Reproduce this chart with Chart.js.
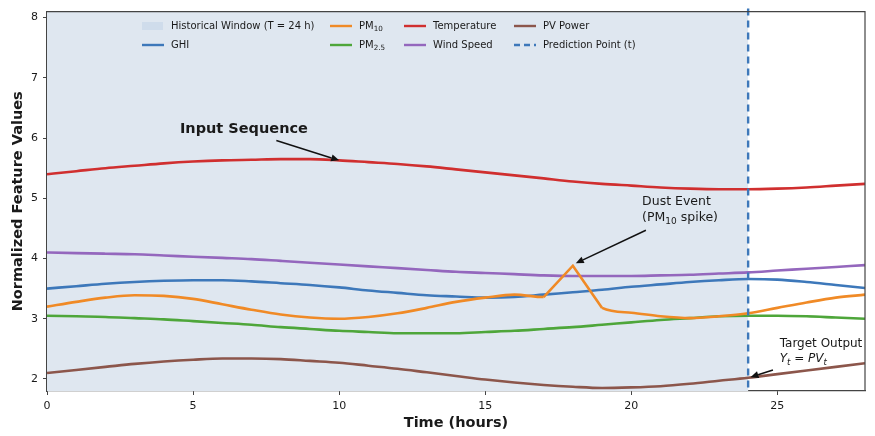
<!DOCTYPE html>
<html>
<head>
<meta charset="utf-8">
<script src="https://cdn.jsdelivr.net/npm/chart.js@4.4.1/dist/chart.umd.min.js"></script>
<style>
  html, body { margin: 0; padding: 0; background: #fff; }
</style>
</head>
<body>
<canvas id="chart" width="875" height="436"></canvas>
<script>
// Hours on the x axis
const hours = [0, 1, 2, 3, 4, 5, 6, 7, 8, 9, 10, 11, 12, 13, 14, 15, 16, 17, 18, 19, 20, 21, 22, 23, 24, 25, 26, 27, 28];

// Series values (normalized)
const ghi = [3.50, 3.54, 3.58, 3.61, 3.63, 3.64, 3.64, 3.62, 3.59, 3.56, 3.52, 3.47, 3.43, 3.39, 3.37, 3.35, 3.36, 3.40, 3.44, 3.48, 3.53, 3.57, 3.61, 3.64, 3.66, 3.65, 3.61, 3.56, 3.51];
const pm10 = [3.20, 3.28, 3.35, 3.39, 3.38, 3.33, 3.24, 3.15, 3.07, 3.02, 3.00, 3.03, 3.09, 3.18, 3.28, 3.35, 3.40, 3.36, 3.88, 3.18, 3.10, 3.04, 3.01, 3.04, 3.09, 3.18, 3.27, 3.35, 3.40];
const pm25 = [3.05, 3.04, 3.03, 3.01, 2.99, 2.96, 2.93, 2.90, 2.86, 2.83, 2.80, 2.78, 2.76, 2.76, 2.76, 2.78, 2.80, 2.83, 2.86, 2.90, 2.94, 2.98, 3.01, 3.04, 3.05, 3.05, 3.04, 3.02, 3.00];
const temperature = [5.40, 5.45, 5.50, 5.54, 5.58, 5.61, 5.63, 5.64, 5.65, 5.65, 5.63, 5.60, 5.57, 5.53, 5.48, 5.43, 5.38, 5.33, 5.28, 5.24, 5.21, 5.18, 5.16, 5.15, 5.15, 5.16, 5.18, 5.21, 5.24];
const windSpeed = [4.10, 4.09, 4.08, 4.07, 4.05, 4.03, 4.01, 3.99, 3.96, 3.93, 3.90, 3.87, 3.84, 3.81, 3.78, 3.76, 3.74, 3.72, 3.71, 3.71, 3.71, 3.72, 3.73, 3.75, 3.77, 3.80, 3.83, 3.86, 3.89];
const pvPower = [2.10, 2.15, 2.20, 2.25, 2.29, 2.32, 2.34, 2.34, 2.33, 2.30, 2.27, 2.22, 2.17, 2.11, 2.05, 1.99, 1.94, 1.90, 1.87, 1.85, 1.86, 1.88, 1.92, 1.97, 2.02, 2.08, 2.14, 2.20, 2.26];

// Axis ticks
const xTicks = [0, 5, 10, 15, 20, 25];
const yTicks = [2, 3, 4, 5, 6, 7, 8];

// Historical window and prediction point (hours)
const windowStart = 0;
const windowEnd = 24;
const predictionT = 24;

const colors = {
    ghi: '#3d78ba',
    pm10: '#f08a26',
    pm25: '#4ea63a',
    temperature: '#d02f2f',
    wind: '#9467bd',
    pv: '#8c564b',
    shade: '#dfe7f0',
    shadePatch: '#cfdceb',
    text: '#1a1a1a',
    spine: '#444'
};

const FONT = '"DejaVu Sans", "Liberation Sans", sans-serif';

// Legend entries (column by column, as matplotlib lays them out)
const legendItems = [
    { kind: 'patch', color: colors.shadePatch, parts: [{ t: 'Historical Window (T = 24 h)' }] },
    { kind: 'line', color: colors.ghi, parts: [{ t: 'GHI' }] },
    { kind: 'line', color: colors.pm10, parts: [{ t: 'PM' }, { t: '10', sub: true }] },
    { kind: 'line', color: colors.pm25, parts: [{ t: 'PM' }, { t: '2.5', sub: true }] },
    { kind: 'line', color: colors.temperature, parts: [{ t: 'Temperature' }] },
    { kind: 'line', color: colors.wind, parts: [{ t: 'Wind Speed' }] },
    { kind: 'line', color: colors.pv, parts: [{ t: 'PV Power' }] },
    { kind: 'dash', color: colors.ghi, parts: [{ t: 'Prediction Point (t)' }] }
];

// Text annotations with arrows, in data coordinates
const annotations = [
    { lines: [[{ t: 'Input Sequence' }]], size: 14.5, weight: 'bold', textAt: [4.55, 6.14], lineGap: 0,
      from: [7.85, 5.96], to: [10, 5.63] },
    { lines: [[{ t: 'Dust Event' }], [{ t: '(PM' }, { t: '10', sub: true }, { t: ' spike)' }]], size: 12.5, weight: '', textAt: [20.37, 4.94], lineGap: 0.265,
      from: [20.5, 4.47], to: [18.1, 3.92] },
    { lines: [[{ t: 'Target Output' }], [{ t: 'Y', it: true }, { t: 't', it: true, sub: true }, { t: ' = ' }, { t: 'PV', it: true }, { t: 't', it: true, sub: true }]], size: 12, weight: '', textAt: [25.08, 2.58], lineGap: 0.245,
      from: [24.85, 2.15], to: [24.08, 2.03] }
];

function xy(arr) {
    return hours.map(function(h, i) { return { x: h, y: arr[i] }; });
}

// Draw text with optional subscripts / italics
function drawParts(ctx, parts, x, y, size, weight) {
    let cx = x;
    parts.forEach(function(p) {
        const sz = p.sub ? size * 0.72 : size;
        ctx.font = (p.it ? 'italic ' : '') + (weight ? weight + ' ' : '') + sz + 'px ' + FONT;
        ctx.fillText(p.t, cx, p.sub ? y + size * 0.3 : y);
        cx += ctx.measureText(p.t).width;
    });
}

function drawArrow(ctx, x0, y0, x1, y1) {
    const ang = Math.atan2(y1 - y0, x1 - x0);
    const head = 8, half = 3.5;
    ctx.strokeStyle = '#111';
    ctx.fillStyle = '#111';
    ctx.lineWidth = 1.5;
    ctx.beginPath();
    ctx.moveTo(x0, y0);
    ctx.lineTo(x1 - head * Math.cos(ang), y1 - head * Math.sin(ang));
    ctx.stroke();
    ctx.beginPath();
    ctx.moveTo(x1, y1);
    ctx.lineTo(x1 - head * Math.cos(ang) + half * Math.sin(ang), y1 - head * Math.sin(ang) - half * Math.cos(ang));
    ctx.lineTo(x1 - head * Math.cos(ang) - half * Math.sin(ang), y1 - head * Math.sin(ang) + half * Math.cos(ang));
    ctx.closePath();
    ctx.fill();
}

// The PM10 spike is drawn with straight segments
const spikeIdx = pm10.indexOf(Math.max.apply(null, pm10));

const overlay = {
    id: 'overlay',
    beforeDatasetsDraw: function(chart) {
        const ctx = chart.ctx, a = chart.chartArea, x = chart.scales.x;
        const x0 = x.getPixelForValue(windowStart), x1 = x.getPixelForValue(windowEnd);
        ctx.save();
        ctx.fillStyle = colors.shade;
        ctx.fillRect(x0, a.top, x1 - x0, a.bottom - a.top);
        ctx.restore();
    },
    afterDatasetsDraw: function(chart) {
        const ctx = chart.ctx, a = chart.chartArea, x = chart.scales.x, y = chart.scales.y;
        ctx.save();

        // prediction point
        const px = x.getPixelForValue(predictionT);
        ctx.strokeStyle = colors.ghi;
        ctx.lineWidth = 2.4;
        ctx.setLineDash([7, 5]);
        ctx.beginPath();
        ctx.moveTo(px, a.top - 3);
        ctx.lineTo(px, a.bottom);
        ctx.stroke();
        ctx.setLineDash([]);

        // annotations
        ctx.textBaseline = 'middle';
        ctx.textAlign = 'left';
        annotations.forEach(function(an) {
            an.lines.forEach(function(line, i) {
                ctx.fillStyle = colors.text;
                drawParts(ctx, line, x.getPixelForValue(an.textAt[0]), y.getPixelForValue(an.textAt[1] - i * an.lineGap), an.size, an.weight);
            });
            drawArrow(ctx, x.getPixelForValue(an.from[0]), y.getPixelForValue(an.from[1]),
                x.getPixelForValue(an.to[0]), y.getPixelForValue(an.to[1]));
        });

        // legend
        const colX = [142, 330, 404, 514];
        const rowY = [26, 45];
        legendItems.forEach(function(item, i) {
            const cx = colX[Math.floor(i / 2)], cy = rowY[i % 2];
            if (item.kind === 'patch') {
                ctx.fillStyle = item.color;
                ctx.fillRect(cx, cy - 4, 21, 8);
            } else {
                ctx.strokeStyle = item.color;
                ctx.lineWidth = 2.4;
                ctx.setLineDash(item.kind === 'dash' ? [6, 4] : []);
                ctx.beginPath();
                ctx.moveTo(cx, cy);
                ctx.lineTo(cx + 22, cy);
                ctx.stroke();
                ctx.setLineDash([]);
            }
            ctx.fillStyle = colors.text;
            drawParts(ctx, item.parts, cx + 29, cy, 10, '');
        });
        ctx.restore();
    },
    afterDraw: function(chart) {
        const ctx = chart.ctx, a = chart.chartArea;
        ctx.save();
        // top and right spines
        ctx.strokeStyle = colors.spine;
        ctx.lineWidth = 1.2;
        ctx.beginPath();
        ctx.moveTo(a.left, a.top);
        ctx.lineTo(a.right, a.top);
        ctx.lineTo(a.right, a.bottom);
        ctx.stroke();

        // axis titles
        ctx.fillStyle = colors.text;
        ctx.font = 'bold 14.5px ' + FONT;
        ctx.textAlign = 'center';
        ctx.textBaseline = 'middle';
        ctx.fillText('Time (hours)', (a.left + a.right) / 2, 423);
        ctx.translate(18, (a.top + a.bottom) / 2);
        ctx.rotate(-Math.PI / 2);
        ctx.fillText('Normalized Feature Values', 0, 0);
        ctx.restore();
    }
};

function lineSet(label, arr, color, order) {
    return {
        label: label,
        data: xy(arr),
        borderColor: color,
        borderWidth: 2.6,
        pointRadius: 0,
        fill: false,
        cubicInterpolationMode: 'monotone',
        order: order
    };
}

const pm10Set = lineSet('PM10', pm10, colors.pm10, 0);
pm10Set.segment = {
    borderColor: function(c) {
        return (c.p0DataIndex >= spikeIdx - 1 && c.p0DataIndex < spikeIdx + 1) ? 'rgba(0,0,0,0)' : colors.pm10;
    }
};

const spikeSet = {
    label: 'PM10 spike',
    data: xy(pm10).slice(spikeIdx - 1, spikeIdx + 2),
    borderColor: colors.pm10,
    borderWidth: 2.6,
    pointRadius: 0,
    fill: false,
    tension: 0,
    order: 0
};

const ctx = document.getElementById('chart').getContext('2d');
const chart = new Chart(ctx, {
    type: 'line',
    data: {
        datasets: [
            lineSet('GHI', ghi, colors.ghi, 3),
            pm10Set,
            spikeSet,
            lineSet('PM2.5', pm25, colors.pm25, 2),
            lineSet('Temperature', temperature, colors.temperature, 5),
            lineSet('Wind Speed', windSpeed, colors.wind, 4),
            lineSet('PV Power', pvPower, colors.pv, 1)
        ]
    },
    options: {
        responsive: false,
        animation: false,
        devicePixelRatio: 1,
        layout: { padding: { top: 9, right: 10, left: 0, bottom: 0 } },
        plugins: {
            legend: { display: false },
            tooltip: { enabled: false }
        },
        scales: {
            x: {
                type: 'linear',
                min: 0,
                max: 28,
                afterBuildTicks: function(s) { s.ticks = xTicks.map(function(v) { return { value: v }; }); },
                afterFit: function(s) { s.height = 45; },
                ticks: { color: colors.text, font: { family: FONT, size: 11 }, padding: 5, maxRotation: 0 },
                grid: { drawOnChartArea: false, tickLength: 4, color: colors.spine, tickWidth: 1 },
                border: { color: colors.spine, width: 1.2 }
            },
            y: {
                min: 1.8,
                max: 8.1,
                afterBuildTicks: function(s) { s.ticks = yTicks.map(function(v) { return { value: v }; }); },
                afterFit: function(s) { s.width = 47; },
                ticks: { color: colors.text, font: { family: FONT, size: 11 }, padding: 5 },
                grid: { drawOnChartArea: false, tickLength: 4, color: colors.spine, tickWidth: 1 },
                border: { color: colors.spine, width: 1.2 }
            }
        }
    },
    plugins: [overlay]
});
</script>
</body>
</html>
